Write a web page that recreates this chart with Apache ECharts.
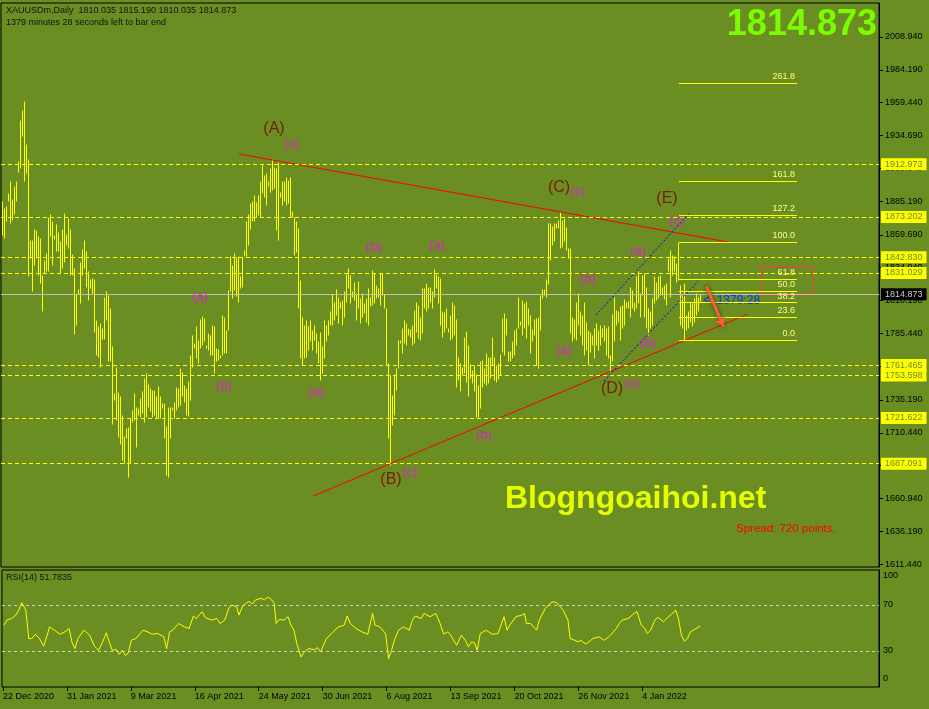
<!DOCTYPE html>
<html><head><meta charset="utf-8">
<script src="https://cdn.jsdelivr.net/npm/echarts@6/dist/echarts.min.js"></script>
<style>html,body{margin:0;padding:0;background:#6b8e23;}#c{width:929px;height:709px;}</style>
</head><body><div id="c"></div>
<script>
// ---- price bars (daily high / low), index 0 = 22 Dec 2020 ----
const highs = [
1884.9,1879.8,1881.1,1890.9,1900.4,1886.9,1896.2,1900.4,1915.5,1946.4,
1954.0,1960.3,1928.1,1917.0,1855.9,1855.9,1864.0,1863.5,1858.5,1857.2,
1829.5,1840.9,1845.9,1872.8,1875.5,1870.3,1859.7,1867.8,1862.2,1854.7,
1864.2,1876.1,1860.2,1872.3,1864.0,1845.1,1834.6,1815.0,1818.7,1839.6,
1849.2,1855.9,1847.6,1832.1,1826.5,1827.5,1826.5,1795.6,1790.6,1793.1,
1789.3,1813.2,1817.0,1814.5,1804.4,1776.2,1740.8,1760.4,1741.5,1738.3,
1724.0,1708.1,1714.4,1714.7,1721.4,1727.7,1740.3,1729.5,1729.0,
1736.5,1741.6,1751.6,1755.4,1747.1,1744.1,1742.8,1742.8,1737.8,1745.8,
1737.8,1732.8,1732.8,1715.2,1730.2,1730.2,1730.2,1734.0,1745.3,1744.1,
1759.2,1756.6,1746.6,1744.1,1749.6,1769.2,1784.3,1778.0,1790.6,1780.5,
1796.4,1798.6,1796.9,1776.7,1785.5,1784.3,1791.8,1790.6,1774.2,1773.7,
1769.2,1799.4,1798.1,1788.1,1818.2,1843.4,1837.1,1845.9,1842.9,1843.4,
1828.3,1842.9,1848.4,1869.8,1875.3,1883.6,1884.9,1889.9,1884.4,1889.9,
1900.4,1912.5,1904.5,1906.2,1900.4,1910.0,1916.8,1911.2,1910.0,1915.0,
1892.4,1900.4,1900.4,1903.7,1901.2,1903.7,1877.8,1873.5,1870.3,1864.7,
1825.8,1798.1,1791.8,1795.6,1790.6,1795.6,1788.1,1791.8,1785.5,1779.3,
1786.8,1775.5,1795.6,1791.8,1795.6,1802.4,1815.0,1809.4,1818.7,1813.2,
1808.9,1810.7,1817.5,1830.5,1834.6,1829.5,1817.5,1824.5,1815.7,1825.0,
1811.9,1815.7,1808.2,1811.9,1819.5,1813.2,1833.3,1830.8,1822.0,1819.5,
1831.3,1830.8,1815.0,1804.4,1762.9,1754.1,1739.0,1754.6,1759.2,1780.5,
1780.5,1789.3,1795.6,1793.1,1789.3,1788.6,1791.8,1803.2,1809.4,1806.9,
1798.1,1819.5,1819.5,1823.2,1820.0,1820.7,1817.5,1834.1,1830.0,1828.3,
1827.5,1802.4,1801.4,1804.4,1789.3,1798.9,1808.9,1806.9,1796.4,1767.9,
1762.9,1760.4,1782.3,1787.3,1776.7,1762.2,1757.9,1761.7,1754.6,1746.1,
1764.2,1765.4,1759.2,1770.5,1767.9,1767.9,1782.3,1767.9,1761.7,1762.9,
1769.7,1796.9,1800.6,1796.9,1772.2,1772.2,1779.3,1788.1,1789.3,1813.2,
1794.8,1810.7,1808.2,1809.9,1804.4,1799.4,1788.6,1796.4,1796.9,1798.1,
1814.5,1819.0,1818.7,1826.3,1869.0,1868.5,1866.5,1868.5,1869.0,1871.0,
1877.3,1871.0,1872.3,1866.0,1849.7,1849.7,1798.1,1796.4,1809.4,1815.7,
1801.9,1799.4,1809.4,1794.3,1788.1,1786.8,1784.3,1789.3,1793.1,1788.1,
1791.8,1789.3,1791.8,1789.3,1790.6,1769.2,1799.9,1813.2,1803.2,1801.9,
1805.7,1806.9,1811.4,1809.4,1809.9,1820.7,1818.2,1809.4,1828.3,1832.1,
1815.7,1829.5,1830.8,1820.7,1804.4,1802.4,1811.9,1828.3,1824.5,1828.3,
1829.5,1820.7,1822.0,1823.2,1842.1,1848.4,1844.6,1843.4,1838.3,1854.3,
1822.0,1814.5,1823.3,1799.4,1801.9,1809.4,1808.2,1811.9,1815.7,1813.2,1815.19
];
const lows = [
1859.7,1857.2,1869.8,1884.9,1869.0,1871.0,1875.5,1885.4,1907.0,1910.0,
1934.6,1900.7,1906.2,1828.3,1842.1,1817.0,1836.6,1842.1,1829.5,1823.3,
1802.6,1830.8,1832.1,1832.1,1858.5,1837.1,1856.7,1847.2,1847.6,1830.8,
1834.6,1839.6,1851.7,1849.7,1829.5,1829.5,1784.8,1791.8,1815.0,1808.2,
1829.5,1834.6,1820.2,1810.2,1819.5,1816.2,1786.8,1769.2,1767.9,1760.4,
1781.0,1781.0,1795.6,1764.9,1764.9,1716.9,1735.3,1719.7,1706.9,1701.8,
1690.0,1687.5,1706.4,1676.9,1687.5,1718.9,1720.2,1699.6,1724.0,
1722.7,1725.2,1718.9,1722.7,1730.2,1726.5,1722.7,1723.9,1721.4,1721.9,
1721.4,1729.0,1706.4,1678.7,1677.4,1706.4,1727.7,1721.4,1727.7,1730.2,
1731.5,1737.8,1734.0,1723.9,1723.4,1735.3,1760.4,1774.2,1766.7,1762.9,
1774.2,1776.7,1779.3,1774.2,1773.0,1769.2,1769.2,1755.4,1764.2,1765.4,
1766.7,1769.2,1770.5,1770.5,1788.1,1817.0,1811.9,1818.2,1813.7,1808.9,
1819.5,1820.0,1843.4,1843.4,1852.2,1864.0,1869.8,1870.3,1873.5,1874.8,
1872.8,1891.1,1888.6,1882.3,1896.2,1892.4,1893.7,1894.9,1863.5,1855.9,
1888.6,1882.3,1884.9,1882.3,1883.6,1873.5,1873.5,1844.6,1847.1,1804.4,
1766.7,1761.7,1766.7,1767.9,1773.0,1779.3,1773.0,1780.5,1770.5,1762.9,
1750.4,1755.4,1766.7,1779.3,1784.3,1791.8,1791.8,1795.6,1799.4,1793.1,
1804.4,1791.8,1798.1,1809.4,1819.5,1808.2,1813.2,1810.7,1795.6,1804.4,
1793.1,1798.1,1800.6,1794.3,1791.8,1805.7,1806.9,1808.2,1811.9,1813.2,
1806.9,1814.5,1804.4,1761.7,1706.4,1686.2,1716.4,1723.9,1742.8,1759.2,
1778.0,1770.5,1778.0,1776.7,1784.3,1783.0,1776.7,1778.0,1786.8,1781.8,
1780.5,1785.5,1804.4,1801.9,1804.4,1809.4,1804.4,1813.2,1819.5,1808.2,
1791.8,1783.0,1786.8,1789.3,1786.3,1780.5,1781.8,1784.3,1745.3,1750.4,
1741.6,1754.1,1755.4,1749.1,1737.8,1751.6,1747.8,1741.6,1722.7,1722.7,
1729.0,1745.3,1747.8,1746.6,1747.8,1751.6,1761.7,1750.4,1749.1,1751.1,
1754.1,1771.7,1769.2,1784.3,1764.7,1764.2,1766.7,1769.2,1776.7,1789.3,
1791.8,1784.3,1789.3,1781.8,1791.8,1770.5,1779.3,1784.3,1761.7,1759.2,
1788.1,1811.9,1814.5,1813.2,1822.5,1840.4,1852.2,1854.7,1864.7,1864.7,
1849.7,1850.9,1854.7,1848.4,1842.1,1785.5,1779.3,1781.8,1780.5,1791.8,
1784.3,1776.7,1769.2,1773.0,1761.7,1771.7,1776.7,1766.7,1776.7,1773.0,
1776.7,1783.0,1779.3,1769.2,1766.7,1756.6,1764.2,1779.3,1791.8,1794.3,
1780.5,1789.3,1791.8,1804.4,1804.4,1798.1,1804.4,1801.9,1804.4,1808.2,
1798.1,1814.5,1798.1,1789.3,1784.3,1789.3,1791.8,1808.2,1810.7,1811.9,
1814.5,1814.5,1811.4,1806.9,1832.1,1813.2,1829.5,1832.1,1824.5,1825.8,
1791.8,1789.3,1780.5,1788.1,1789.3,1794.3,1790.6,1794.3,1799.4,1801.9,1810.035
];
const bidPrice = 1814.873;

// ---- axis ticks ----
const priceTicks = [2008.94,1984.19,1959.44,1934.69,1909.94,1885.19,1859.69,1834.94,1810.19,1785.44,1760.69,1735.19,1710.44,1685.69,1660.94,1636.19,1611.44];
const dateLabels = ['22 Dec 2020','31 Jan 2021','9 Mar 2021','16 Apr 2021','24 May 2021','30 Jun 2021','6 Aug 2021','13 Sep 2021','20 Oct 2021','26 Nov 2021','4 Jan 2022'];
const dateLabelIdx = [0,32,64,96,128,160,192,224,256,288,320];
const rsiTicks = [100,70,30,0];
const rsiLevels = [70,30];

// ---- horizontal levels ----
const levelLines = [1912.973,1873.202,1842.830,1831.029,1761.465,1753.598,1721.622,1687.091];

// ---- RSI(14) readings: bar index / value ----
const rsiIdx = [0.5,2,4.3,6.4,7.9,9.4,10.3,11.4,12.9,14.4,16.2,18.3,20.3,22.1,23.3,25.7,28.6,31,33.1,34.5,36,37.5,40.5,43.4,45.8,47.9,49.9,51.7,52.9,54.7,56.8,58.2,59.7,61.2,62.7,64.2,66.5,70.1,72.5,74.5,77.5,80.5,81.9,83.4,84.9,87.9,90.8,93.2,95.3,96.7,99.7,101.2,104.2,107.1,108.6,111,113,114.5,116.9,118.1,119.8,121.9,123.4,124.9,126.4,129.3,130.8,132.3,133.8,134.7,135.8,136.7,138.2,140.6,142.7,144.1,145.6,147.1,149.2,150.7,153,156,157.5,159,160.4,161.9,164.9,167.8,169.3,170.8,172.3,173.8,176.7,179.7,182.6,185,186.2,188.6,191.5,193,194.5,196,198,200.4,203.4,204.9,206.3,209.3,210.8,213.7,216.7,218.8,220.6,222.6,224.1,227.1,229.4,231.5,233,234.5,236,237.4,238.9,241.9,244.8,247.8,250.8,252.3,253.7,256.7,259.7,261.1,262,264.1,267.1,268.5,271.5,273.9,275.9,277.4,278.9,280.4,282.8,283.9,286.3,287.8,289.3,290.8,292.2,295.2,298.2,301.1,304.1,307,308.5,310,313,315.9,317.4,319.5,321.3,322.5,324.2,326.3,327.8,330.7,333.1,335.2,336.7,338.1,339.6,341.1,342.6,344.1,345.5,347.9,349];
const rsiVal = [52.5,56.9,58.3,61.2,65.6,72.0,72.9,65.6,40.8,40.8,44.6,40.8,34.1,43.7,51.0,48.1,44.6,46.6,49.6,37.9,32.0,40.8,48.1,43.7,34.1,30.6,37.9,45.8,39.3,30.6,31.2,27.1,30.6,26.2,28.2,39.3,40.8,48.1,46.6,44.6,45.2,42.3,32.0,46.6,48.1,53.9,51.0,49.6,60.4,58.3,64.2,59.2,56.9,58.3,53.9,56.9,67.1,70.0,68.5,61.2,68.5,72.0,72.9,70.9,74.4,75.8,74.4,76.7,75.8,77.3,71.5,53.9,57.4,56.9,59.8,52.5,48.1,36.4,24.7,29.1,32.0,31.2,32.9,29.1,35.0,40.8,45.8,51.0,51.6,52.5,60.4,53.9,49.6,46.6,44.6,62.7,52.5,51.0,45.2,23.3,30.6,39.9,48.1,51.0,48.1,56.9,60.4,58.3,62.7,59.8,62.7,53.9,44.6,46.6,43.7,35.0,43.7,39.3,33.5,37.9,37.0,30.6,45.2,48.1,44.6,45.2,59.8,48.1,52.5,59.8,61.2,62.7,53.9,53.9,48.1,56.9,67.1,71.5,72.9,71.5,68.5,65.6,56.9,40.8,39.3,37.9,39.3,37.0,36.4,40.8,42.3,39.3,43.7,49.6,53.9,56.9,58.3,62.7,64.2,52.5,49.6,45.2,48.1,56.9,59.2,55.4,59.8,62.7,65.6,58.3,43.7,38.5,40.8,46.6,48.1,50.5,51.78];

// ---- drawn objects (bar index, price) ----
const redTrendA = [[118.5,1920.7],[363,1854.3]];
const redTrendB = [[155.5,1662.7],[373,1800.0]];
const blueChanA = [[297,1799.2],[343.7,1876.0]];
const blueChanB = [[301,1749.5],[348.2,1824.9]];
const arrowPts = [[352.3,1820.6],[360.7,1790.4]];
const boxPts = [[379.5,1835.4],[405.5,1814.3]];
const fibLevels = [0,23.6,38.2,50,61.8,100,127.2,161.8,261.8];
const fibLow = 1780.4, fibHigh = 1854.3, fibFrom = 338.5, fibTo = 397.5;

const waveBig = [[136,1939.5,'(A)'],[194.5,1674.8,'(B)'],[278.5,1895.0,'(C)'],[305,1743.4,'(D)'],[332.5,1886.7,'(E)']];
const waveSmall = [[145,1928.2,'(c)'],[99,1812.8,'(a)'],[111,1745.7,'(b)'],[157,1741.2,'(a)'],[186,1850.5,'(b)'],[217.5,1852.0,'(a)'],[241,1708.7,'(b)'],[204,1680.8,'(c)'],[288,1892.8,'(c)'],[293,1826.4,'(b)'],[281,1772.8,'(a)'],[318,1847.5,'(a)'],[323,1778.1,'(b)'],[315,1747.9,'(c)'],[337.5,1870.1,'(c)']];

const FONT = 'Liberation Sans';
const chart = echarts.init(document.getElementById('c'), null, {renderer:'canvas'});
const fibPrice = l => fibLow + (fibHigh - fibLow) * l / 100;

chart.setOption({
  animation:false,
  backgroundColor:'#6b8e23',
  textStyle:{fontFamily:FONT},
  grid:[
    {left:1, top:3, width:878, height:564, show:true, borderColor:'#000', borderWidth:1, backgroundColor:'transparent'},
    {left:1, top:570, width:878, height:117, show:true, borderColor:'#000', borderWidth:1, backgroundColor:'transparent'}
  ],
  xAxis:[
    {gridIndex:0, type:'value', min:-0.5, max:438.5, show:false, axisLine:{onZero:false}},
    {gridIndex:1, type:'value', min:-0.5, max:438.5,
     axisLine:{show:false, onZero:false}, splitLine:{show:false},
     axisTick:{show:true, customValues:dateLabelIdx, length:4, lineStyle:{color:'#000'}},
     axisLabel:{customValues:dateLabelIdx, formatter:v=>dateLabels[dateLabelIdx.indexOf(v)]||'', align:'left', margin:5, fontSize:9, color:'#000', fontFamily:FONT}}
  ],
  yAxis:[
    {gridIndex:0, type:'value', position:'right', min:1609.19, max:2034.58,
     axisLine:{show:true, onZero:false, lineStyle:{color:'#000'}}, splitLine:{show:false},
     axisTick:{show:true, customValues:priceTicks, length:4, lineStyle:{color:'#000'}},
     axisLabel:{customValues:priceTicks, formatter:v=>v.toFixed(3), margin:6, fontSize:9, color:'#000', fontFamily:FONT}},
    {gridIndex:1, type:'value', position:'right', min:-1.3, max:100.43,
     axisLine:{show:true, onZero:false, lineStyle:{color:'#000'}}, splitLine:{show:false},
     axisTick:{show:false},
     axisLabel:{customValues:rsiTicks, margin:4, fontSize:9, color:'#000', fontFamily:FONT,
       formatter:v=> v===100 ? '{t|100}' : (v===0 ? '{b|0}' : String(v)),
       rich:{t:{padding:[11,0,0,0], fontSize:9, color:'#000'}, b:{padding:[0,0,13,0], fontSize:9, color:'#000'}}}}
  ],
  series:[
    {type:'custom', xAxisIndex:0, yAxisIndex:0, z:2,
     data: highs.map((h,i)=>[i, lows[i], h]),
     renderItem:(params, api)=>{
       const a = api.coord([api.value(0), api.value(1)]);
       const b = api.coord([api.value(0), api.value(2)]);
       const x = Math.round(a[0]) + 0.5;
       return {type:'line', shape:{x1:x, y1:Math.round(a[1])+0.5, x2:x, y2:Math.min(Math.round(b[1]), Math.round(a[1])-1)+0.5},
               style:{stroke:'#ffff00', lineWidth:1}};
     }},
    {type:'line', xAxisIndex:0, yAxisIndex:0, data:[], z:1,
     markLine:{silent:true, symbol:'none', animation:false, precision:3,
       data: levelLines.map(v=>({yAxis:v})),
       lineStyle:{color:'#ffff00', type:[4,3], width:1},
       label:{position:'end', distance:2, formatter:p=>Number(p.value).toFixed(3), backgroundColor:'#ffff00', color:'#6b8e23', fontSize:9, fontFamily:FONT, padding:[2,4,1,4]}}},
    {type:'line', xAxisIndex:0, yAxisIndex:0, data:[], z:1,
     markLine:{silent:true, symbol:'none', animation:false, precision:3,
       data:[{yAxis:bidPrice}],
       lineStyle:{color:'#c0c0c0', type:'solid', width:1},
       label:{position:'end', distance:2, formatter:p=>Number(p.value).toFixed(3), backgroundColor:'#000', color:'#c8c8c8', fontSize:9, fontFamily:FONT, padding:[2,4,1,4]}}},
    {type:'line', xAxisIndex:0, yAxisIndex:0, z:4, data:redTrendA, showSymbol:false, silent:true, lineStyle:{color:'#ff0000', width:1}},
    {type:'line', xAxisIndex:0, yAxisIndex:0, z:4, data:redTrendB, showSymbol:false, silent:true, lineStyle:{color:'#ff0000', width:1}},
    {type:'line', xAxisIndex:0, yAxisIndex:0, z:4, data:blueChanA, showSymbol:false, silent:true, lineStyle:{color:'#0000ff', width:1, type:[2,2]}},
    {type:'line', xAxisIndex:0, yAxisIndex:0, z:4, data:blueChanB, showSymbol:false, silent:true, lineStyle:{color:'#0000ff', width:1, type:[2,2]}},
    {type:'line', xAxisIndex:0, yAxisIndex:0, data:[], z:5,
     markLine:{silent:true, symbol:'none', animation:false, precision:3,
       data: fibLevels.map(l=>[{coord:[fibFrom, fibPrice(l)]},{coord:[fibTo, fibPrice(l)]}]),
       lineStyle:{color:'#ffff00', type:'solid', width:1},
       label:{position:'insideEndTop', distance:2, formatter:p=>fibLevels[p.dataIndex].toFixed(1), color:'#ffff80', fontSize:9, fontFamily:FONT}},
     markArea:{silent:true, data:[[{coord:boxPts[0]},{coord:boxPts[1]}]], itemStyle:{color:'rgba(0,0,0,0)', borderColor:'#ff3b3b', borderWidth:1}}},
    {type:'line', xAxisIndex:0, yAxisIndex:0, data:[], z:6,
     markLine:{silent:true, symbol:['none','arrow'], symbolSize:9, animation:false,
       data:[[{coord:arrowPts[0]},{coord:arrowPts[1]}]],
       lineStyle:{color:'#ff5a3c', width:3, type:'solid', shadowColor:'rgba(0,40,0,0.7)', shadowBlur:4},
       label:{show:false}}},
    {type:'scatter', xAxisIndex:0, yAxisIndex:0, z:7, symbolSize:0, silent:true,
     data: waveBig,
     label:{show:true, position:'inside', formatter:p=>p.data[2], color:'#7a0000', fontSize:16, fontFamily:FONT}},
    {type:'scatter', xAxisIndex:0, yAxisIndex:0, z:7, symbolSize:0, silent:true,
     data: waveSmall,
     label:{show:true, position:'inside', formatter:p=>p.data[2], color:'#ff00ff', fontSize:13, fontFamily:FONT}},
    {type:'line', xAxisIndex:1, yAxisIndex:1, z:3, data: rsiIdx.map((x,i)=>[x, rsiVal[i]]), showSymbol:false, silent:true,
     lineStyle:{color:'#ffff00', width:1},
     markLine:{silent:true, symbol:'none', animation:false, data: rsiLevels.map(v=>({yAxis:v})),
       lineStyle:{color:'#d0d0d0', type:[3,3], width:1}, label:{show:false}}}
  ],
  graphic:[
    {type:'text', x:6, y:11, style:{text:'XAUUSDm,Daily  1810.035 1815.190 1810.035 1814.873', fill:'#111', font:'9px '+FONT, verticalAlign:'middle'}},
    {type:'text', x:6, y:23, style:{text:'1379 minutes 28 seconds left to bar end', fill:'#111', font:'9px '+FONT, verticalAlign:'middle'}},
    {type:'text', x:877, y:25, style:{text:'1814.873', fill:'#7cfc00', font:'bold 36px '+FONT, align:'right', verticalAlign:'middle'}},
    {type:'text', x:505, y:499, style:{text:'Blogngoaihoi.net', fill:'#e6ff00', font:'bold 32px '+FONT, verticalAlign:'middle'}},
    {type:'text', x:736, y:529, style:{text:'Spread: 720 points.', fill:'#ff0000', font:'11.5px '+FONT, verticalAlign:'middle'}},
    {type:'text', x:703, y:301, style:{text:'<  1379:28', fill:'#1030ff', font:'12px '+FONT, verticalAlign:'middle'}},
    {type:'text', x:6, y:578, style:{text:'RSI(14) 51.7835', fill:'#111', font:'9px '+FONT, verticalAlign:'middle'}}
  ]
});
</script></body></html>
